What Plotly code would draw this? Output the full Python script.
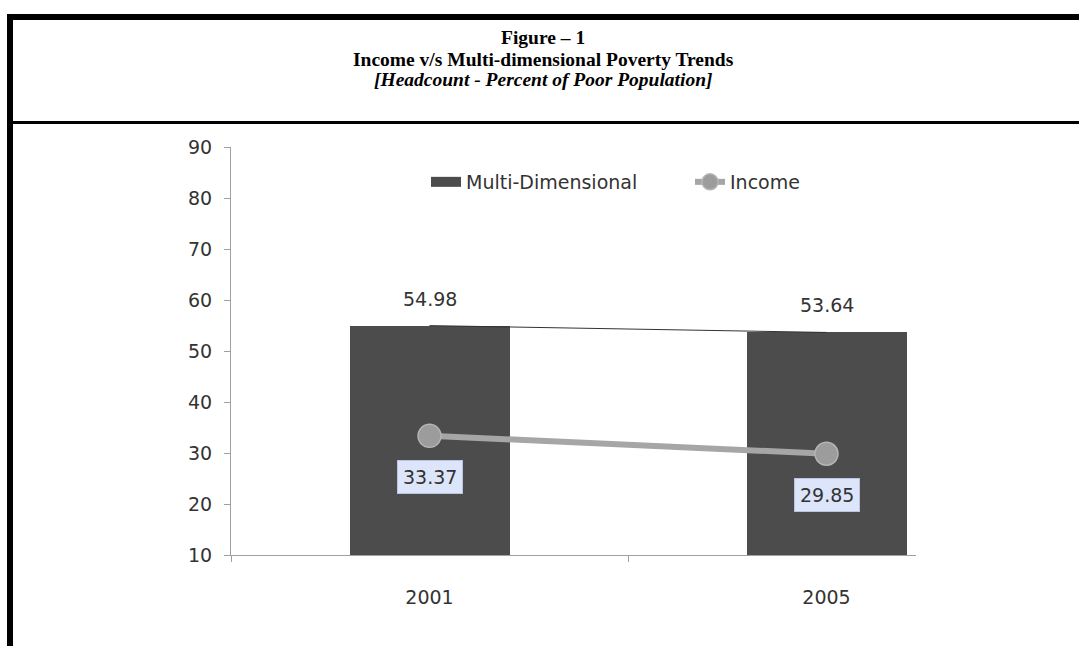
import plotly.graph_objects as go

categories = ["2001", "2005"]
multi_dim = [54.98, 53.64]
income = [33.37, 29.85]
y_ticks = [10, 20, 30, 40, 50, 60, 70, 80, 90]

W, H = 1079, 646
L, R, T, B = 231, 916, 147, 555  # plot area pixels

def px_x(p):
    return (p - L) / (R - L)

def px_y(p):
    return (B - p) / (B - T)

xpos = list(range(len(categories)))
FONT = "DejaVu Sans"
FS = 19
TXT = "#333333"
AX = "#a0a0a0"
BAR = "#4c4c4c"

fig = go.Figure()
fig.add_trace(go.Bar(
    x=xpos, y=multi_dim, name="Multi-Dimensional", width=0.403,
    marker=dict(color=BAR, line=dict(width=0)), showlegend=False,
))
# legend entry for the bars (wide swatch like the original)
fig.add_trace(go.Scatter(
    x=[None], y=[None], mode="lines", name="Multi-Dimensional",
    line=dict(color=BAR, width=12),
))
fig.add_trace(go.Scatter(
    x=xpos, y=multi_dim, mode="lines", showlegend=False,
    line=dict(color="#333333", width=1), hoverinfo="skip",
))
fig.add_trace(go.Scatter(
    x=xpos, y=income, name="Income", mode="lines+markers",
    line=dict(color="#a6a6a6", width=6),
    marker=dict(size=23, color="#9c9c9c", line=dict(color="#b5b5b5", width=1.5)),
))

for xi, v in zip(xpos, multi_dim):
    fig.add_annotation(
        x=xi, y=v, text=f"{v:.2f}", showarrow=False, yshift=27,
        font=dict(family=FONT, size=FS, color=TXT),
    )

for xi, v in zip(xpos, income):
    fig.add_annotation(
        x=xi, y=v, text=f"{v:.2f}", showarrow=False, yshift=-41,
        font=dict(family=FONT, size=FS, color=TXT),
        bgcolor="#dce5fa", bordercolor="#b8c4e0", borderwidth=1, borderpad=5,
    )

titles = [
    ("<b>Figure – 1</b>", 37),
    ("<b>Income v/s Multi-dimensional Poverty Trends</b>", 59),
    ("<b><i>[Headcount - Percent of Poor Population]</i></b>", 80),
]
for t, yp in titles:
    fig.add_annotation(
        x=px_x(543), y=px_y(yp), xref="paper", yref="paper", text=t,
        showarrow=False, font=dict(family="Liberation Serif", size=19.5, color="black"),
        xanchor="center", yanchor="middle",
    )

# frame lines
fig.add_shape(type="line", xref="paper", yref="paper", x0=px_x(7), x1=px_x(1079),
              y0=px_y(17), y1=px_y(17), line=dict(color="black", width=6))
fig.add_shape(type="line", xref="paper", yref="paper", x0=px_x(10), x1=px_x(10),
              y0=px_y(14), y1=px_y(646), line=dict(color="black", width=6))
fig.add_shape(type="line", xref="paper", yref="paper", x0=px_x(10), x1=px_x(1079),
              y0=px_y(122.5), y1=px_y(122.5), line=dict(color="black", width=3))

fig.update_layout(
    width=W, height=H,
    margin=dict(l=L, r=W - R, t=T, b=H - B),
    paper_bgcolor="white", plot_bgcolor="white",
    showlegend=True,
    legend=dict(orientation="h", x=px_x(426), y=px_y(182), xanchor="left", yanchor="middle",
                font=dict(family=FONT, size=FS, color=TXT), bgcolor="rgba(0,0,0,0)",
                tracegroupgap=0, entrywidth=219, entrywidthmode="pixels"),
    bargap=0,
    xaxis=dict(
        range=[-0.5, -0.5 + (R - L) / 397.0], tickvals=xpos, ticktext=categories,
        ticks="", showgrid=False, zeroline=False, showline=True, linecolor=AX, linewidth=1,
        tickfont=dict(family=FONT, size=FS, color=TXT), ticklabelstandoff=25,
        minor=dict(tickvals=[-0.5, 0.5], ticks="outside", ticklen=6, tickcolor=AX, tickwidth=1),
        fixedrange=True,
    ),
    yaxis=dict(
        range=[10, 90], tickvals=y_ticks, ticks="outside", ticklen=6, tickcolor=AX,
        showgrid=False, zeroline=False, showline=True, linecolor=AX, linewidth=1,
        tickfont=dict(family=FONT, size=FS, color=TXT), ticklabelstandoff=8,
        fixedrange=True,
    ),
)

fig.write_html("out.html")
